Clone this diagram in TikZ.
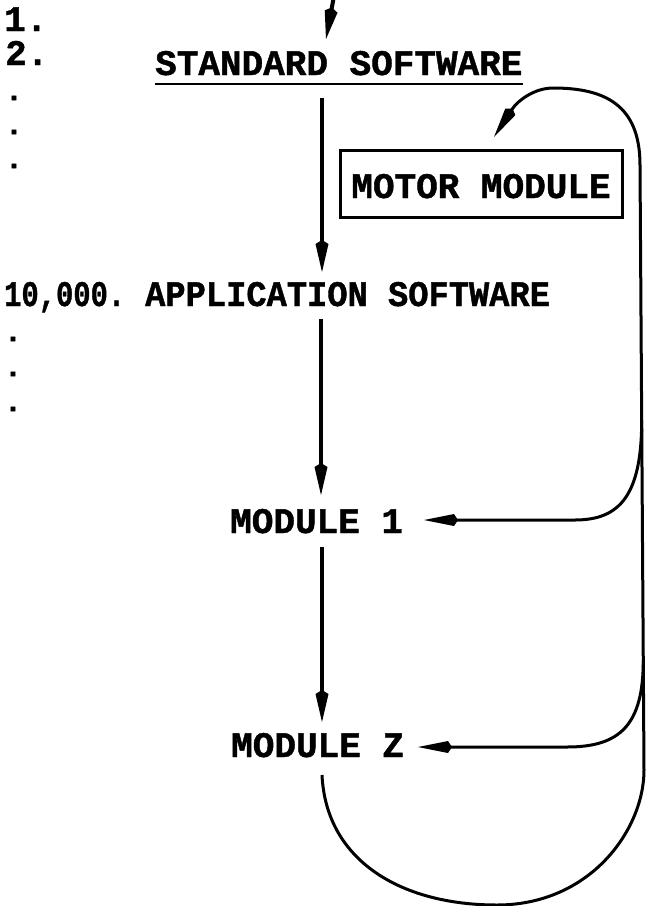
\documentclass[tikz,border=0pt]{standalone}
\usepackage{fontspec}
\setmainfont{Liberation Mono}[BoldFeatures={FakeBold=1.2}]
\usetikzlibrary{arrows.meta}
\begin{document}
\begin{tikzpicture}[x=1pt,y=-1pt,
  txt/.style={font=\fontsize{36}{40}\selectfont\bfseries, inner sep=0pt, anchor=base west},
  dotmark/.style={font=\fontsize{30}{30}\selectfont\bfseries, inner sep=0pt},
  flow/.style={line width=4pt, -{Kite[length=32pt,width=13pt,inset=4pt]}},
  retarr/.style={line width=3pt, -{Kite[length=34pt,width=12pt,inset=4pt]}},
  boxed/.style={draw, line width=3pt, minimum width=282pt, minimum height=67pt, inner sep=0pt,
    text height=29pt, text depth=0pt, font=\fontsize{36}{40}\selectfont\bfseries},
]
\fill[white] (0,0) rectangle (647,906);
\useasboundingbox (0,0) rectangle (647,906);

% texts
\node[txt] (one) at (4,31) {1.};
\node[txt] (two) at (5,65) {2.};
\node[txt] (std) at (155,75) {STANDARD SOFTWARE};
\node[txt] (app) at (4,306) {\scalebox{0.8}[1]{10,000.}\hspace{20pt}\scalebox{0.937}[1]{APPLICATION SOFTWARE}};
\node[boxed] (motor) at (481,183.5) {MOTOR MODULE};
\node[txt] (m1) at (230,533) {MODULE 1};
\node[txt] (mz) at (231,757) {MODULE Z};

% vertical ellipsis dots
\node[dotmark] (d1) at (14,98) {.};
\node[dotmark] (d2) at (14,132) {.};
\node[dotmark] (d3) at (14,166) {.};
\node[dotmark] (d4) at (13,339) {.};
\node[dotmark] (d5) at (13,374) {.};
\node[dotmark] (d6) at (13,409) {.};

% underline
\draw[line width=2.5pt] ([yshift=-9pt]std.base west) -- ([yshift=-9pt]std.base east);

% connector end points
\coordinate (topin) at (334,-4);
\coordinate (stdin) at (326,39);
\coordinate (stdout) at (322,98);
\coordinate (appin) at (322,272);
\coordinate (appout) at (321,319);
\coordinate (m1in) at (321,495);
\coordinate (m1out) at (322,547);
\coordinate (mzin) at (322,722);
\coordinate (mzout) at (322,775);
\coordinate (motin) at (494,137);
\coordinate (m1side) at (424,520);
\coordinate (mzside) at (418,747);
\coordinate (br1) at (641.7,420);
\coordinate (br2) at (643.3,660);

% main flow
\draw[flow] (topin) -- (stdin);
\draw[flow] (stdout) -- (appin);
\draw[flow] (appout) -- (m1in);
\draw[flow] (m1out) -- (mzin);

% return loop
\draw[retarr] (mzout) .. controls (326,860) and (400,905) .. (497,905)
  .. controls (590,905) and (644,830) .. (644,770) -- (640,165)
  .. controls (640,105) and (605,88) .. (553,88)
  .. controls (535,88) and (518,100) .. (motin);
\draw[retarr] (br1) .. controls (641.7,495) and (620,520) .. (575,520) -- (m1side);
\draw[retarr] (br2) .. controls (643.3,725) and (620,747) .. (567,747) -- (mzside);
\end{tikzpicture}
\end{document}
